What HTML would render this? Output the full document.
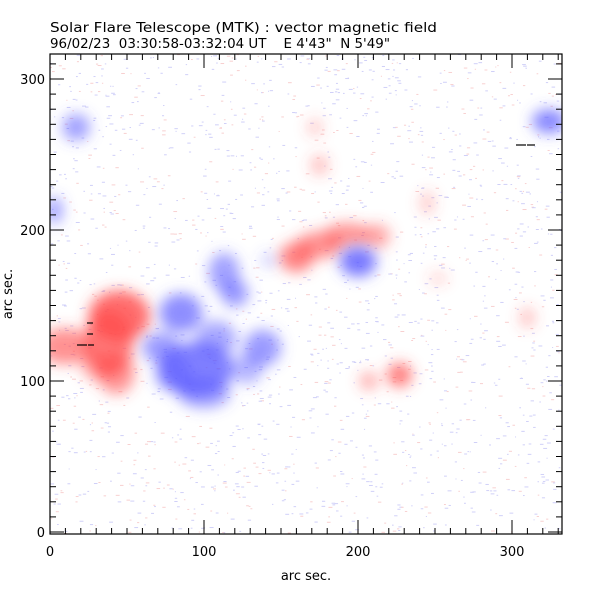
<!DOCTYPE html>
<html><head><meta charset="utf-8"><style>
body{margin:0;background:#fff;width:612px;height:585px;overflow:hidden}
svg text{font-family:"DejaVu Sans","Liberation Sans",sans-serif;font-size:13px;fill:#000;white-space:pre}
</style></head><body>
<svg id="c" width="612" height="585" xmlns="http://www.w3.org/2000/svg">
<defs>
<filter id="bl" x="-50%" y="-50%" width="200%" height="200%"><feGaussianBlur stdDeviation="7"/></filter>
<clipPath id="cp"><rect x="50" y="54" width="512" height="480"/></clipPath>
</defs>
<text x="50" y="32" font-size="17" textLength="387" lengthAdjust="spacingAndGlyphs">Solar Flare Telescope (MTK) : vector magnetic field</text>
<text x="50" y="48" font-size="15" textLength="340" lengthAdjust="spacingAndGlyphs" xml:space="preserve">96/02/23  03:30:58-03:32:04 UT    E 4'43"  N 5'49"</text>
<g id="plot" clip-path="url(#cp)"></g>
<rect x="50" y="54" width="512" height="480" fill="none" stroke="#000" stroke-width="1.2"/>
<g id="ax"></g>
<text x="306" y="580" text-anchor="middle">arc sec.</text>
<text transform="translate(12,294) rotate(-90)" text-anchor="middle">arc sec.</text>
</svg>
<script>
const xTicks=[0,100,200,300];
const yTicks=[0,100,200,300];
// blobs: [x, y, rx, ry, strength]
const redX=[45,38,43,10,160,175,193,212,227,207,175,172,245,310,252,30];
const redY=[143,125,105,123,182,190,197,196,104,100,243,268,218,142,168,110];
const redRX=[20,16,12,17,11,15,15,9,8,6,6,5,5,5,6,10];
const redRY=[17,22,14,12,10,9,8,8,8,6,7,6,8,7,4,10];
const redS=[1,0.9,0.7,0.75,0.85,0.75,0.7,0.6,0.9,0.55,0.4,0.35,0.35,0.4,0.3,0.5];
const bluX=[95,85,113,120,72,108,138,128,142,200,17,324,3,100,80];
const bluY=[108,145,172,158,122,128,122,108,180,179,268,272,213,92,105];
const bluRX=[24,14,10,9,12,13,12,10,5,12,9,11,5,17,12];
const bluRY=[18,13,13,9,10,12,12,10,5,10,9,8,9,10,12];
const bluS=[0.95,0.85,0.7,0.75,0.75,0.65,0.75,0.55,0.35,1,0.7,0.9,0.75,0.7,0.6];
const X=v=>50+v*1.54, Y=v=>532-v*1.51;
const NS="http://www.w3.org/2000/svg";
const plot=document.getElementById('plot'), ax=document.getElementById('ax');
function mk(t,a,p){const e=document.createElementNS(NS,t);for(const k in a)e.setAttribute(k,a[k]);p.appendChild(e);return e;}
// speckle noise (texture)
let s=7;const rnd=()=>{s=(s*16807)%2147483647;return s/2147483647;};
const ng=mk('g',{},plot);


for(let i=0;i<2000;i++){const r=rnd()<0.7;mk('rect',{x:50+rnd()*512,y:54+rnd()*480,width:1+rnd()*3,height:1,fill:r?'#d0d0f8':'#f8d0d0'},ng);}
function blobs(xs,ys,rxs,rys,ss,col,name){
 const g=mk('g',{filter:'url(#bl)'},plot);
 
 
 for(let i=0;i<xs.length;i++){
  const e=mk('ellipse',{cx:X(xs[i]),cy:Y(ys[i]),rx:rxs[i]*1.54,ry:rys[i]*1.51,fill:col,'fill-opacity':ss[i]*0.8},g);
  
  
 }
}
blobs(redX,redY,redRX,redRY,redS,'#ff4848','positive-field');
blobs(bluX,bluY,bluRX,bluRY,bluS,'#5858ff','negative-field');
// arrows
[[77,345,87,345],[88,345,94,345],[87,334,93,334],[87,323,93,323],[516,145,526,145],[527,145,535,145]].forEach(a=>{const l=mk('line',{x1:a[0],y1:a[1],x2:a[2],y2:a[3],stroke:'#000','stroke-width':1.2},plot);});
// ticks
for(let v=0;v<=330;v+=10){const maj=v%100===0,len=maj?14:6;
 mk('line',{x1:X(v),y1:534,x2:X(v),y2:534-len,stroke:'#000'},ax);
 mk('line',{x1:X(v),y1:54,x2:X(v),y2:54+len,stroke:'#000'},ax);}
for(let v=0;v<=315;v+=10){const maj=v%100===0,len=maj?14:6;
 mk('line',{x1:50,y1:Y(v),x2:50+len,y2:Y(v),stroke:'#000'},ax);
 mk('line',{x1:562,y1:Y(v),x2:562-len,y2:Y(v),stroke:'#000'},ax);}
xTicks.forEach(v=>{const t=mk('text',{x:X(v),y:556,'text-anchor':'middle'},ax);t.textContent=v;
 
 });
yTicks.forEach(v=>{const t=mk('text',{x:45,y:Y(v)+5,'text-anchor':'end'},ax);t.textContent=v;
 
 });
</script>
</body></html>
